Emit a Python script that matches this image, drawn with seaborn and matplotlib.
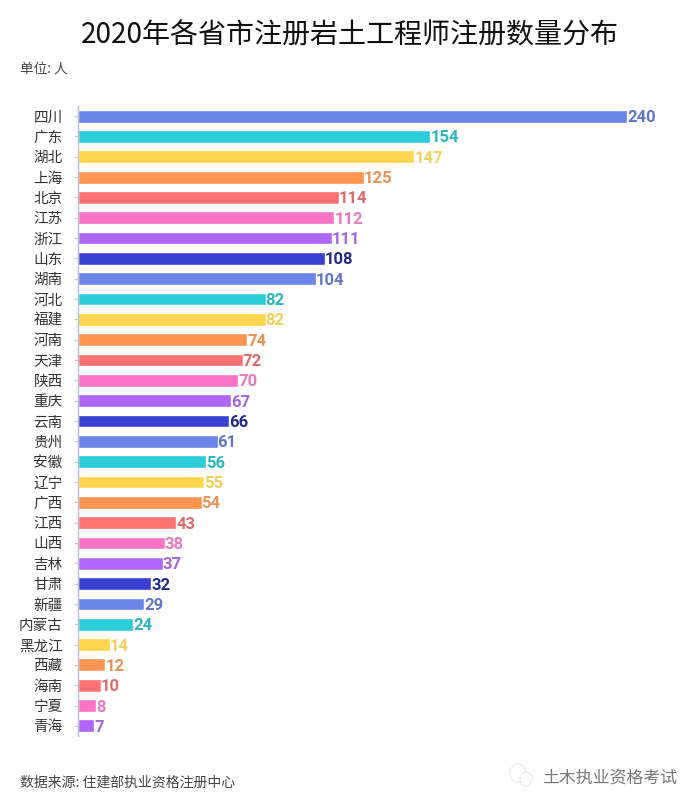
import matplotlib
matplotlib.use("Agg")
import matplotlib.pyplot as plt
from matplotlib.patches import Circle
import pandas as pd
import seaborn as sns

provinces = ["四川", "广东", "湖北", "上海", "北京", "江苏", "浙江", "山东", "湖南", "河北",
             "福建", "河南", "天津", "陕西", "重庆", "云南", "贵州", "安徽", "辽宁", "广西",
             "江西", "山西", "吉林", "甘肃", "新疆", "内蒙古", "黑龙江", "西藏", "海南", "宁夏", "青海"]
counts = [240, 154, 147, 125, 114, 112, 111, 108, 104, 82,
          82, 74, 72, 70, 67, 66, 61, 56, 55, 54,
          43, 38, 37, 32, 29, 24, 14, 12, 10, 8, 7]
bar_colors = ["#6A85E8", "#2CCCD8", "#FFD54F", "#FF9550", "#FF7272", "#F974C6", "#B066F8", "#3A40D0"]
label_colors = ["#5F77C8", "#2BB5C0", "#F2CF5A", "#E59355", "#DE6A6A", "#E678BE", "#A565DC", "#23288F"]

CJK = ["Noto Sans CJK SC", "DejaVu Sans"]

sns.set_style("white")
plt.rcParams["font.family"] = CJK

W, H = 700, 806
df = pd.DataFrame({"province": provinces, "count": counts})
palette = [bar_colors[i % len(bar_colors)] for i in range(len(provinces))]

fig = plt.figure(figsize=(W / 100, H / 100), dpi=100)
ax = fig.add_axes([78 / W, 1 - 736 / H, (680 - 78) / W, (736 - 106) / H])

sns.barplot(data=df, y="province", x="count", hue="province", palette=palette,
            legend=False, width=0.63, saturation=1, ax=ax)

ax.set_xlim(0, 602 / 2.2875)
ax.set_ylim(len(provinces) - 0.5, -0.5)
ax.set_xlabel("")
ax.set_ylabel("")
ax.xaxis.set_visible(False)

for s in ["top", "right", "bottom"]:
    ax.spines[s].set_visible(False)
ax.spines["left"].set_color("#b9bfd0")
ax.spines["left"].set_linewidth(1)

ax.tick_params(axis="y", length=3, width=0.8, color="#c8c8c8", pad=8, left=True, labelsize=10.5,
               labelcolor="#333333")

# value labels next to the bars
for i, v in enumerate(counts):
    ax.annotate(str(v), (v, i), xytext=(0, 0), textcoords="offset points", va="center_baseline", ha="left",
                fontsize=12, fontweight="bold", family="Roboto",
                color=label_colors[i % len(label_colors)])

fig.text(350 / W, 1 - 35 / H, "2020年各省市注册岩土工程师注册数量分布", ha="center", va="center",
         fontsize=20.2, color="#111111")
fig.text(20 / W, 1 - 69 / H, "单位: 人", ha="left", va="center", fontsize=9.8, color="#444444")
fig.text(20 / W, 1 - 783 / H, "数据来源: 住建部执业资格注册中心", ha="left", va="center", fontsize=10, color="#444444")

# watermark
fig.text(542 / W, 1 - 777 / H, "土木执业资格考试", ha="left", va="center", fontsize=12.2, color="#777777")
for cx, cy, r in [(518, 773, 8), (526, 779, 6)]:
    fig.add_artist(Circle((cx / W, 1 - cy / H), r / W, transform=fig.transFigure, fill=True,
                          facecolor="white", edgecolor="#c4c4c4", linewidth=0.7, linestyle=":"))

fig.savefig("out.png", dpi=100)
